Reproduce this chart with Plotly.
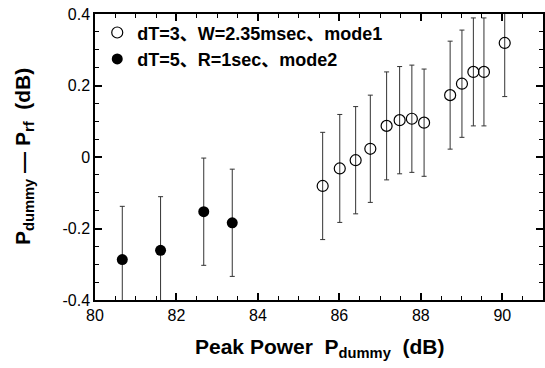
import plotly.graph_objects as go

# Series 1: open circles (mode1)
x1 = [85.59, 86.01, 86.40, 86.76, 87.16, 87.48, 87.78, 88.08, 88.72, 89.01, 89.29, 89.55, 90.06]
y1 = [-0.081, -0.032, -0.009, 0.023, 0.087, 0.103, 0.107, 0.096, 0.173, 0.205, 0.238, 0.238, 0.319]
e1 = [0.150, 0.151, 0.150, 0.150, 0.151, 0.150, 0.150, 0.150, 0.151, 0.150, 0.151, 0.151, 0.150]

# Series 2: filled circles (mode2)
x2 = [80.67, 81.61, 82.67, 83.37]
y2 = [-0.287, -0.261, -0.153, -0.184]
e2 = [0.149, 0.150, 0.150, 0.150]

name1 = "dT=3、W=2.35msec、mode1"
name2 = "dT=5、R=1sec、mode2"

xticks = [80, 82, 84, 86, 88, 90]
yticks = [-0.4, -0.2, 0, 0.2, 0.4]
yticklabels = ["-0.4", "-0.2", "0", "0.2", "0.4"]

xtitle = "Peak Power  P<sub>dummy</sub>  (dB)"
ytitle = "P<sub>dummy</sub> — P<sub>rf</sub>  (dB)"

fig = go.Figure()
fig.add_trace(go.Scatter(
    x=x1, y=y1, mode="markers", name=name1,
    marker=dict(symbol="circle-open", size=11, color="black", line=dict(width=1.2)),
    error_y=dict(type="data", array=e1, visible=True, color="#333", thickness=1, width=2.5),
))
fig.add_trace(go.Scatter(
    x=x2, y=y2, mode="markers", name=name2,
    marker=dict(symbol="circle", size=11, color="black"),
    error_y=dict(type="data", array=e2, visible=True, color="#333", thickness=1, width=2.5),
))

axis_common = dict(
    showline=True, linecolor="black", linewidth=1.5, mirror="allticks",
    ticks="inside", ticklen=7, tickwidth=1.5, tickcolor="black",
    showgrid=False, zeroline=False, automargin=False,
    tickfont=dict(family="Arial, Liberation Sans", size=16, color="black"),
)

fig.update_layout(
    width=545, height=368,
    margin=dict(l=95, r=2, t=14, b=68, autoexpand=False),
    paper_bgcolor="white", plot_bgcolor="white",
    showlegend=True,
    legend=dict(x=0.005, y=0.999, xanchor="left", yanchor="top",
                font=dict(family="Arial, Liberation Sans, Noto Sans CJK JP", size=18, color="black", weight="bold"),
                bgcolor="rgba(0,0,0,0)", itemsizing="trace", tracegroupgap=11,
                itemwidth=30),
    xaxis=dict(range=[80, 91], tickvals=xticks, ticktext=[str(v) for v in xticks],
               minor=dict(dtick=0.5, ticks="inside", ticklen=4, tickwidth=1.2, tickcolor="black"),
               **axis_common),
    yaxis=dict(range=[-0.4, 0.4], tickvals=yticks, ticktext=yticklabels,
               minor=dict(dtick=0.05, ticks="inside", ticklen=4, tickwidth=1.2, tickcolor="black"),
               **axis_common),
    annotations=[
        dict(text=xtitle, xref="paper", yref="paper", x=0.5, y=0, xanchor="center",
             yanchor="middle", yshift=-48, showarrow=False,
             font=dict(family="Arial, Liberation Sans", size=21, color="black", weight="bold")),
        dict(text=ytitle, xref="paper", yref="paper", x=0, y=0.5, xanchor="center",
             yanchor="middle", xshift=-71, textangle=-90, showarrow=False,
             font=dict(family="Arial, Liberation Sans", size=21, color="black", weight="bold")),
    ],
)

# Remove the default page margin so the figure sits at the window's top-left corner.
fig.write_html("out.html",
               config={"displayModeBar": False},
               post_script="document.body.style.margin='0';document.body.style.overflow='hidden';")
